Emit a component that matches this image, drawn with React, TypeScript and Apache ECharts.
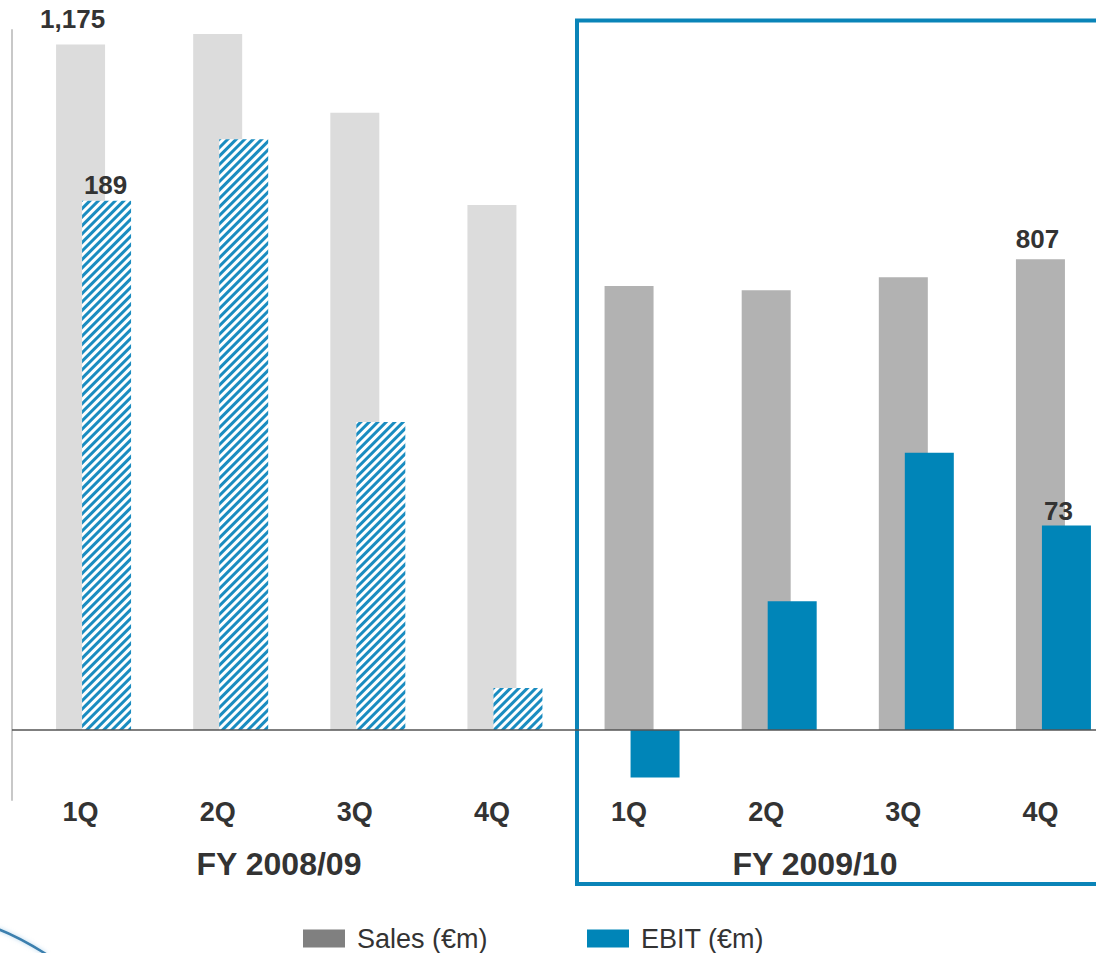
import React, { useEffect, useRef } from "react";
import * as echarts from "echarts";

// Quarterly figures, two fiscal years
const quarters = ["1Q", "2Q", "3Q", "4Q", "1Q", "2Q", "3Q", "4Q"];
const fiscalYears = ["FY 2008/09", "FY 2009/10"];
const sales = [1175, 1193, 1058, 900, 761, 754, 776, 807];
const ebit = [189, 211, 110, 15, -17, 46, 99, 73];
// which points carry a value label
const salesLabelled = [0, 7];
const ebitLabelled = [0, 7];

const FONT = "'Liberation Sans', Arial, Helvetica, sans-serif";
const TEXT = "#333333";
const SALES_OLD = "#dcdcdc";
const SALES_NEW = "#b2b2b2";
const SALES_LEGEND = "#808080";
const EBIT_BLUE = "#0085b8";
const HATCH_BLUE = "#1a8cc0";
const BOX_BLUE = "#0a84b8";

const fmt = (v: number) => v.toLocaleString("en-US");

export default function App() {
  const ref = useRef<HTMLDivElement>(null);

  useEffect(() => {
    if (!ref.current) return;
    const chart = echarts.init(ref.current, null, { renderer: "svg" });

    const valueLabel = (dx: number, dist: number) => ({
      show: true,
      position: "top",
      distance: dist,
      offset: [dx, 0],
      formatter: (p: any) => fmt(p.value),
      fontFamily: FONT,
      fontWeight: "bold",
      fontSize: 26,
      color: TEXT,
    });

    const salesData = sales.map((v, i) => ({
      value: v,
      itemStyle: { color: i < 4 ? SALES_OLD : SALES_NEW },
      label: salesLabelled.includes(i)
        ? i === 0
          ? valueLabel(-8, 13)
          : valueLabel(-3, 7)
        : { show: false },
    }));

    // previous-year EBIT is hatched with thin diagonal stripes
    const ebitData = ebit.map((v, i) => ({
      value: v,
      itemStyle:
        i < 4
          ? {
              color: "#ffffff",
              decal: {
                symbol: "rect",
                color: HATCH_BLUE,
                dashArrayX: [1, 0],
                dashArrayY: [2.5, 2.1],
                rotation: -Math.PI / 4,
                symbolSize: 1,
              },
            }
          : { color: EBIT_BLUE },
      label: ebitLabelled.includes(i)
        ? i === 0
          ? valueLabel(-1, 3)
          : valueLabel(-8, 2)
        : { show: false },
    }));

    const legendText = {
      fontFamily: FONT,
      fontSize: 27,
      color: TEXT,
      padding: [0, 0, 0, 7],
    };

    chart.setOption({
      animation: false,
      backgroundColor: "#ffffff",
      grid: [
        { left: 12, top: 30, width: 1097, height: 770 },
        { left: 38, top: 30, width: 1097, height: 770 },
      ],
      xAxis: [
        {
          type: "category",
          gridIndex: 0,
          data: quarters,
          position: "bottom",
          axisLine: { show: false, onZero: false },
          axisTick: { show: false },
          axisLabel: {
            margin: -2,
            fontFamily: FONT,
            fontWeight: "bold",
            fontSize: 27,
            color: TEXT,
          },
        },
        {
          type: "category",
          gridIndex: 1,
          data: quarters,
          show: false,
        },
      ],
      yAxis: [
        {
          type: "value",
          gridIndex: 0,
          min: -120,
          max: 1200,
          axisLine: { show: true, onZero: false, lineStyle: { color: "#c8c8c8", width: 2 } },
          axisTick: { show: false },
          axisLabel: { show: false },
          splitLine: { show: false },
        },
        {
          type: "value",
          gridIndex: 1,
          min: -25,
          max: 250,
          show: false,
          splitLine: { show: false },
        },
      ],
      legend: [
        {
          data: ["Sales (€m)"],
          left: 298,
          top: 920,
          itemWidth: 42,
          itemHeight: 18,
          icon: "rect",
          textStyle: legendText,
        },
        {
          data: ["EBIT (€m)"],
          left: 582,
          top: 920,
          itemWidth: 42,
          itemHeight: 18,
          icon: "rect",
          textStyle: legendText,
        },
      ],
      series: [
        {
          name: "Sales (€m)",
          type: "bar",
          xAxisIndex: 0,
          yAxisIndex: 0,
          barWidth: 49,
          itemStyle: { color: SALES_LEGEND },
          data: salesData,
          markLine: {
            silent: true,
            symbol: "none",
            label: { show: false },
            lineStyle: { color: "#555555", width: 1.5, type: "solid" },
            data: [{ yAxis: 0 }],
            z: 10,
          },
        },
        {
          name: "EBIT (€m)",
          type: "bar",
          xAxisIndex: 1,
          yAxisIndex: 1,
          barWidth: 49,
          itemStyle: { color: EBIT_BLUE },
          data: ebitData,
        },
      ],
      graphic: [
        {
          type: "rect",
          shape: { x: 577, y: 20.5, width: 600, height: 863.5 },
          style: { fill: "none", stroke: BOX_BLUE, lineWidth: 4 },
          z: 5,
        },
        {
          type: "text",
          x: 279,
          y: 864,
          style: {
            text: fiscalYears[0],
            fontFamily: FONT,
            fontWeight: "bold",
            fontSize: 32,
            fill: TEXT,
            textAlign: "center",
            textVerticalAlign: "middle",
          },
        },
        {
          type: "text",
          x: 815,
          y: 864,
          style: {
            text: fiscalYears[1],
            fontFamily: FONT,
            fontWeight: "bold",
            fontSize: 32,
            fill: TEXT,
            textAlign: "center",
            textVerticalAlign: "middle",
          },
        },
        {
          type: "bezierCurve",
          shape: { x1: -2, y1: 929, cpx1: 16, cpy1: 936, cpx2: 30, cpy2: 944, x2: 46, y2: 954 },
          style: {
            stroke: "#3b7fae",
            lineWidth: 2.5,
            fill: "none",
            shadowBlur: 4,
            shadowColor: "rgba(120,180,220,0.6)",
          },
        },
      ],
    });

    return () => chart.dispose();
  }, []);

  // The plot runs past the right edge of the view, so the chart is drawn wider and cropped
  return (
    <div
      style={{
        position: "absolute",
        left: 0,
        top: 0,
        width: 1096,
        height: 953,
        overflow: "hidden",
      }}
    >
      <div ref={ref} style={{ width: 1140, height: 953 }} />
    </div>
  );
}
